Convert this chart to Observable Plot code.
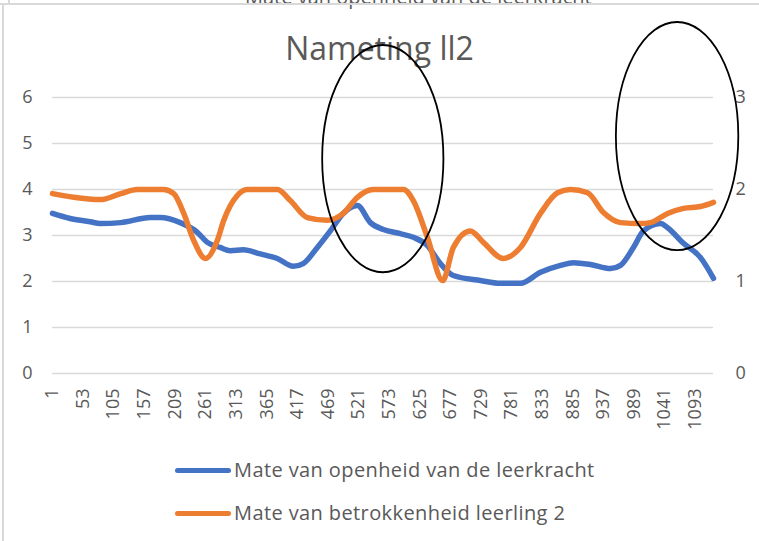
<!DOCTYPE html>
<html>
<head>
<meta charset="utf-8">
<script src="https://cdn.jsdelivr.net/npm/d3@7"></script>
<script src="https://cdn.jsdelivr.net/npm/@observablehq/plot@0.6"></script>
<style>
  html, body { margin: 0; padding: 0; background: #fff; }
  #wrap { position: relative; width: 759px; height: 541px; overflow: hidden; background: #fff; font-family: "Open Sans", sans-serif; color: #595959; }
  .abs { position: absolute; }
  #title { top: 30px; left: 0; width: 759px; text-align: center; font-size: 32px; line-height: 36px; }
  #chart { position: absolute; top: 80px; left: 0; }
  .leg { position: absolute; left: 175px; font-size: 20px; letter-spacing: 0.4px; line-height: 24px; white-space: nowrap; }
  .sw { display: inline-block; width: 56px; height: 5px; border-radius: 3px; vertical-align: middle; margin-right: 3px; position: relative; top: -1px; }
</style>
</head>
<body>
<div id="wrap">
  <div class="abs" style="top:-17px;left:245px;font-size:20px;white-space:nowrap;">Mate van openheid van de leerkracht</div>
  <div class="abs" style="top:3px;left:0;width:759px;height:2px;background:#d9d9d9;"></div>
  <div class="abs" style="top:0;left:8px;width:2px;height:4px;background:#d9d9d9;"></div>
  <div class="abs" style="top:5px;left:2px;width:2px;height:536px;background:#d9d9d9;"></div>
  <div id="title" class="abs">Nameting ll2</div>
  <div id="chart"></div>
  <div class="leg" style="top:458px;"><span class="sw" style="background:#4472C4"></span>Mate van openheid van de leerkracht</div>
  <div class="leg" style="top:501px;"><span class="sw" style="background:#ED7D31"></span>Mate van betrokkenheid leerling 2</div>
</div>
<script>
// X category tick labels
const xTicks = [1, 53, 105, 157, 209, 261, 313, 365, 417, 469, 521, 573, 625, 677, 729, 781, 833, 885, 937, 989, 1041, 1093];
const xLast = 1124;
const leftTicks = [0, 1, 2, 3, 4, 5, 6];
const rightTicks = [0, 1, 2, 3];

// Series 1: Mate van openheid van de leerkracht (left axis)
const blueIdx = [1, 31, 65, 82, 117, 167, 184, 218, 247, 264, 286, 303, 325, 354, 383, 410, 427, 451, 473, 495, 519, 541, 563, 592, 614, 638, 660, 682, 728, 762, 796, 830, 864, 886, 915, 949, 966, 988, 1005, 1034, 1046, 1073, 1102, 1124];
const blueVal = [3.48, 3.37, 3.30, 3.26, 3.28, 3.39, 3.39, 3.28, 3.07, 2.85, 2.74, 2.67, 2.69, 2.60, 2.50, 2.33, 2.39, 2.74, 3.10, 3.48, 3.65, 3.28, 3.13, 3.04, 2.96, 2.78, 2.39, 2.13, 2.02, 1.96, 1.96, 2.20, 2.35, 2.41, 2.37, 2.28, 2.35, 2.74, 3.10, 3.26, 3.17, 2.83, 2.52, 2.07];

// Series 2: Mate van betrokkenheid leerling 2 (right axis)
const orangeIdx = [1, 37, 82, 117, 145, 190, 207, 224, 241, 261, 281, 292, 315, 332, 383, 405, 434, 468, 495, 519, 546, 597, 614, 638, 664, 682, 711, 733, 767, 796, 830, 859, 881, 910, 937, 966, 1000, 1017, 1046, 1073, 1102, 1124];
const orangeVal = [1.955, 1.915, 1.89, 1.955, 2.0, 2.0, 1.955, 1.74, 1.445, 1.25, 1.445, 1.665, 1.935, 2.0, 2.0, 1.88, 1.695, 1.665, 1.74, 1.915, 2.0, 2.0, 1.88, 1.48, 1.01, 1.37, 1.55, 1.425, 1.25, 1.37, 1.74, 1.965, 2.0, 1.965, 1.75, 1.64, 1.63, 1.64, 1.74, 1.795, 1.815, 1.86];

// Hand-drawn annotation ellipses (data units: index, left-axis value)
const ellCx = [563, 1063];
const ellCy = [4.66, 5.15];
const ellRx = [103, 104];
const ellRy = [2.47, 2.48];

const blue = blueIdx.map((i, k) => ({i, v: blueVal[k]}));
const orange = orangeIdx.map((i, k) => ({i, v: orangeVal[k]}));
const ellipses = ellCx.map((cx, k) => ({cx, cy: ellCy[k], rx: ellRx[k], ry: ellRy[k]}));
const ratio = 2; // right axis 0..3 vs left axis 0..6

function ellipseMark(index, scales) {
  const g = d3.create("svg:g");
  for (const e of ellipses) {
    const cx = scales.x(e.cx), cy = scales.y(e.cy);
    const rx = Math.abs(scales.x(e.cx + e.rx) - cx);
    const ry = Math.abs(scales.y(e.cy + e.ry) - cy);
    g.append("ellipse").attr("cx", cx).attr("cy", cy).attr("rx", rx).attr("ry", ry)
      .attr("fill", "none").attr("stroke", "#000").attr("stroke-width", 1.8);
  }
  return g.node();
}

const chart = Plot.plot({
  width: 759,
  height: 360,
  marginLeft: 52,
  marginRight: 46,
  marginTop: 17,
  marginBottom: 67,
  style: {fontFamily: "Open Sans, sans-serif", fontSize: "18px", color: "#595959", background: "transparent", overflow: "visible"},
  x: {type: "linear", domain: [1, xLast]},
  y: {domain: [0, 6]},
  marks: [
    Plot.gridY(leftTicks, {stroke: "#d9d9d9", strokeOpacity: 1, strokeWidth: 1.5}),
    Plot.axisY(leftTicks, {anchor: "left", tickSize: 0, tickPadding: 20, label: null}),
    Plot.axisY(rightTicks.map(d => d * ratio), {anchor: "right", tickSize: 0, tickPadding: 22, tickFormat: d => d / ratio, label: null}),
    Plot.axisX(xTicks, {anchor: "bottom", tickRotate: -90, tickSize: 0, tickPadding: 15, tickFormat: d => String(d), label: null}),
    Plot.line(blue, {x: "i", y: "v", stroke: "#4472C4", strokeWidth: 5.5, curve: "monotone-x"}),
    Plot.line(orange, {x: "i", y: d => d.v * ratio, stroke: "#ED7D31", strokeWidth: 5.5, curve: "monotone-x"}),
    ellipseMark
  ]
});
document.getElementById("chart").appendChild(chart);
</script>
</body>
</html>
